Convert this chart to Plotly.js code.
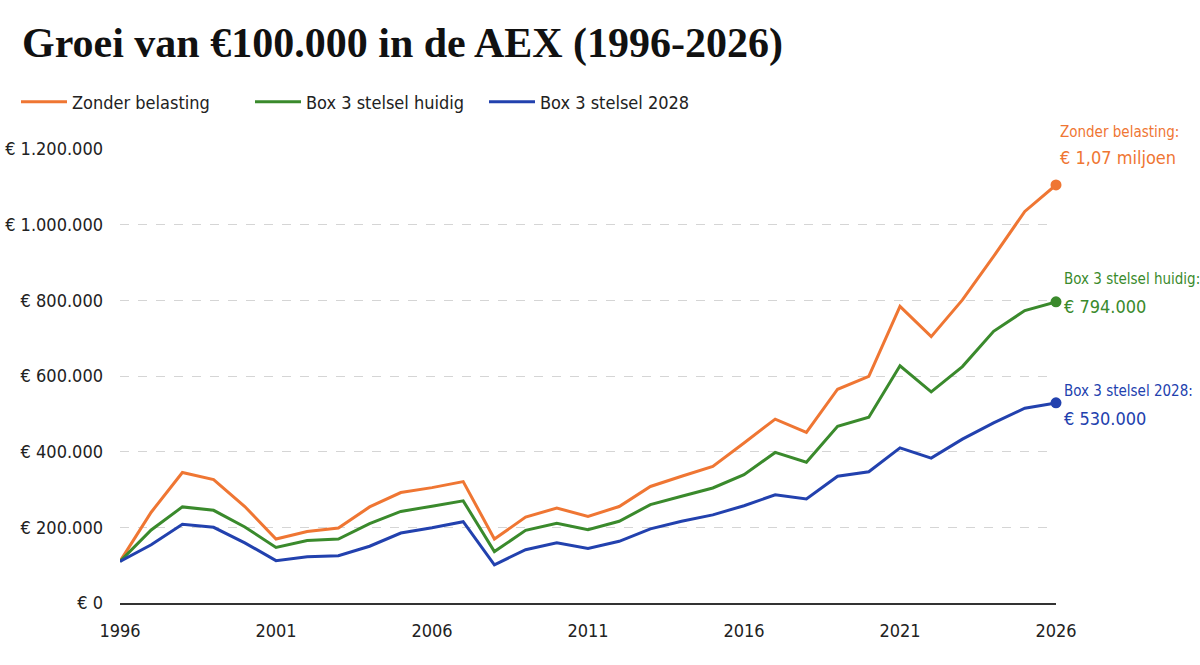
<!DOCTYPE html>
<html>
<head>
<meta charset="utf-8">
<script src="https://cdn.plot.ly/plotly-3.0.1.min.js"></script>
<style>
html,body{margin:0;padding:0;background:#fff;}
#chart{width:1200px;height:665px;}
</style>
</head>
<body>
<div id="chart"></div>
<script>
const years = [1996,1997,1998,1999,2000,2001,2002,2003,2004,2005,2006,2007,2008,2009,2010,2011,2012,2013,2014,2015,2016,2017,2018,2019,2020,2021,2022,2023,2024,2025,2026];

const zonderBelasting = [110000,240000,345000,326000,255000,169000,189000,198000,254000,292000,305000,321000,169000,227000,251000,229000,255000,308000,335000,361000,423000,486000,451000,565000,599000,784000,704000,801000,916000,1035000,1105000];
const box3Huidig = [110000,193000,254000,245000,201000,147000,165000,169000,210000,242000,256000,270000,136000,192000,211000,194000,216000,260000,282000,304000,339000,398000,372000,467000,491000,627000,558000,625000,718000,773000,796000];
const box3_2028 = [110000,154000,208000,200000,159000,112000,122000,125000,150000,185000,199000,215000,101000,141000,159000,144000,163000,196000,216000,233000,257000,286000,275000,335000,347000,410000,383000,433000,476000,515000,529000];

const seriesNames = ["Zonder belasting","Box 3 stelsel huidig","Box 3 stelsel 2028"];
const endLabelTitles = ["Zonder belasting:","Box 3 stelsel huidig:","Box 3 stelsel 2028:"];
const endLabelValues = ["€ 1,07 miljoen","€ 794.000","€ 530.000"];
const tickYears = [1996,2001,2006,2011,2016,2021,2026];

const colors = ["#EF7633","#3A8A2C","#2241AE"];
const seriesData = [zonderBelasting, box3Huidig, box3_2028];
const narrow = "'DejaVu Sans Condensed', 'Liberation Sans Narrow', sans-serif";

const traces = seriesData.map((ys,i)=>({
  x: years, y: ys, name: seriesNames[i], type:'scatter', mode:'lines',
  line:{color:colors[i], width:3}, cliponaxis:false, hoverinfo:'skip'
}));
seriesData.forEach((ys,i)=>{
  traces.push({
    x:[years[years.length-1]], y:[ys[ys.length-1]], type:'scatter', mode:'markers',
    marker:{color:colors[i], size:11}, showlegend:false, cliponaxis:false, hoverinfo:'skip'
  });
});

const titleShift = [[53, 27],[23, -5],[12, -16]];
const annotations = [];
seriesData.forEach((ys,i)=>{
  const yv = ys[ys.length-1];
  annotations.push({
    x: years[years.length-1], y: yv, xref:'x', yref:'y',
    text: endLabelTitles[i], showarrow:false, xanchor:'left', yanchor:'middle',
    xshift: i===0?2:6, yshift: titleShift[i][0],
    font:{family:narrow, size:15, color:colors[i]}
  });
  annotations.push({
    x: years[years.length-1], y: yv, xref:'x', yref:'y',
    text: endLabelValues[i], showarrow:false, xanchor:'left', yanchor:'middle',
    xshift: i===0?2:6, yshift: titleShift[i][1],
    font:{family:narrow, size:18, color:colors[i]}
  });
});

const layout = {
  width:1200, height:665,
  paper_bgcolor:'#fff', plot_bgcolor:'#fff',
  margin:{l:120, r:144, t:149, b:62},
  title:{
    text:'<b>Groei van €100.000 in de AEX (1996-2026)</b>',
    x:22/1200, xref:'container', xanchor:'left',
    y:1-42/665, yref:'container', yanchor:'middle',
    font:{family:'Liberation Serif, DejaVu Serif, serif', size:42, color:'#111'}
  },
  separators:',.',
  showlegend:true,
  legend:{
    orientation:'h', x:-104/936, xanchor:'left', xref:'paper',
    y:(603-102)/454, yanchor:'middle',
    font:{family:narrow, size:18, color:'#222'},
    itemwidth:46, entrywidth:173, entrywidthmode:'pixels',
    traceorder:'normal'
  },
  xaxis:{
    range:[1996,2026], tickvals:tickYears, showgrid:false, zeroline:false,
    showline:true, linecolor:'#333', linewidth:2,
    ticks:'', ticklabelstandoff:10,
    tickfont:{family:narrow, size:18, color:'#222'}
  },
  yaxis:{
    range:[0,1200000], dtick:200000, tick0:0, tickformat:',d', tickprefix:'€ ',
    showgrid:true, gridcolor:'#d5d5d5', griddash:'dash', gridwidth:1,
    zeroline:false, showline:false, ticks:'', ticklabelstandoff:16,
    tickfont:{family:narrow, size:18, color:'#222'}
  },
  annotations: annotations
};

Plotly.newPlot('chart', traces, layout, {displayModeBar:false, staticPlot:true});
</script>
</body>
</html>
